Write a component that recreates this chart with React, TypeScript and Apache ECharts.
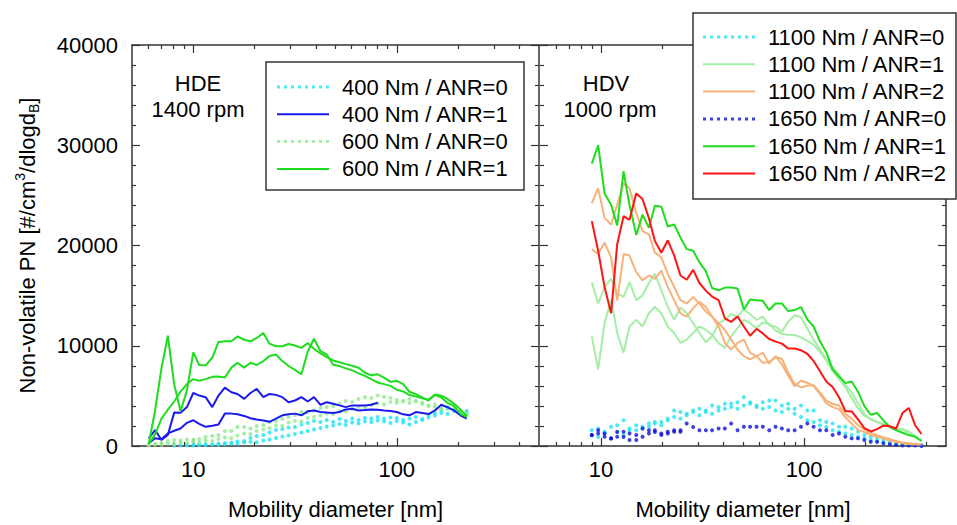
import { useEffect, useRef } from "react";
import * as echarts from "echarts";

// ---------------- data ----------------
const X_MIN = 5;
const X_MAX = 500;
const Y_MIN = 0;
const Y_MAX = 40000;
const Y_STEP = 10000;
const MAJOR_TICKS = [10, 100];
const MINOR_TICKS = [6, 7, 8, 9, 20, 30, 40, 50, 60, 70, 80, 90, 200, 300, 400];

const HDE_LABEL = ["HDE", "1400 rpm"];
const HDV_LABEL = ["HDV", "1000 rpm"];
const X_TITLE = "Mobility diameter [nm]";

// Left panel (HDE) mobility diameters [nm]
const HDE_D = [6.04, 6.49, 6.98, 7.5, 8.06, 8.66, 9.31, 10.0, 10.7, 11.5, 12.4, 13.3, 14.3, 15.4, 16.5, 17.8, 19.1, 20.5, 22.1, 23.7, 25.5, 27.4, 29.4, 31.6, 34.0, 36.5, 39.2, 42.2, 45.3, 48.7, 52.3, 56.2, 60.4, 64.9, 69.8, 75.0, 80.6, 86.6, 93.1, 100, 107.5, 115.5, 124.1, 133.4, 143.3, 154.0, 165.5, 177.8, 191.1, 205.4, 220.7];

const HDE_400_ANR0_A = [null, null, null, null, 50, 80, 100, 120, 150, 200, 150, 250, 300, 350, 450, 500, 800, 1000, 1100, 1350, 1600, 1700, 1850, 1900, 2150, 2300, 2500, 2400, 2600, 2400, 2700, 2500, 2750, 2600, 2800, 2750, 2900, 2750, 2850, 2800, 2600, 2750, 2900, 2700, 3100, 3300, 3600, 3900, 3500, 3400, 3500];
const HDE_400_ANR0_B = [null, null, null, null, null, null, 60, 40, 90, 70, 130, 110, 180, 250, 220, 350, 420, 380, 550, 650, 800, 950, 1050, 1200, 1350, 1500, 1650, 1800, 1950, 2050, 2200, 2100, 2350, 2250, 2450, 2400, 2550, 2450, 2300, 2500, 2350, 2150, 2400, 2600, 2850, 3050, 3300, 3200, 3600, 3450, 3350];
const HDE_400_ANR1_A = [770, 1590, 600, 1090, 3330, 3320, 3880, 5290, 5030, 4870, 3880, 5030, 5820, 5360, 5190, 4700, 5290, 5690, 4870, 5190, 5100, 4870, 4370, 4540, 4870, 4440, 4870, 4110, 4370, 4210, 4050, 3880, 4050, 4050, 4050, 4110, 4310, null, null, null, null, null, null, null, null, null, null, null, null, null, null];
const HDE_400_ANR1_B = [270, 770, 670, 1260, 1520, 1750, 2310, 2570, 2210, 1910, 2010, 2140, 3230, 3230, 3160, 3000, 2770, 2640, 2540, 2410, 2730, 3060, 3160, 3230, 3060, 3460, 3550, 3390, 3330, 3290, 3390, 3650, 3720, 3550, 3590, 3650, 3620, 3550, 3490, 3390, 3160, 3060, 3390, 3290, 3190, 3550, 4110, 3850, 3550, 3060, 2730];
const HDE_600_ANR0_A = [100, 200, 300, 500, 600, 550, 650, 600, 700, 900, 1000, 1100, 1500, 1500, 1900, 1900, 1750, 2000, 2100, 2400, 2500, 2700, 2900, 3100, 3400, 3400, 3550, 3800, 3900, 4000, 4200, 4500, 4400, 4700, 4870, 4800, 5030, 4900, 4800, 4310, 4500, 4700, 4500, 4300, 4000, 3900, 3720, 3900, 3600, 3300, 3100];
const HDE_600_ANR0_B = [80, 150, 120, 250, 200, 350, 300, 450, 400, 550, 500, 700, 850, 800, 1050, 1250, 1200, 1500, 1650, 1800, 2050, 2000, 2350, 2500, 2450, 2800, 2900, 3050, 3250, 3200, 3500, 3450, 3700, 3900, 3850, 4100, 4250, 4150, 4400, 4600, 4450, 4300, 4450, 4200, 4050, 4150, 3800, 3700, 3750, 3450, 3250];
const HDE_600_ANR1_A = [200, 3520, 7750, 11000, 6150, 3490, 5550, 9330, 8080, 8050, 8800, 10380, 10440, 10440, 10930, 10600, 10440, 10770, 11260, 10210, 9950, 9950, 10180, 10020, 9790, 10280, 9690, 9230, 8870, 8530, 8360, 8170, 8000, 7810, 7310, 7050, 7150, 6820, 6400, 6490, 6170, 5410, 5180, 4850, 4530, 5150, 5020, 4690, 4230, 3640, 2980];
const HDE_600_ANR1_B = [200, 1160, 2730, 3620, 4440, 5420, 6180, 6670, 6510, 6670, 6900, 6930, 6830, 7820, 8310, 7820, 8310, 8080, 8470, 8970, 9130, 8470, 7980, 7590, 7160, 9400, 10700, 9460, 9130, 8100, 7970, 7740, 7540, 7250, 6990, 6660, 6330, 6170, 6000, 5610, 5440, 5080, 4950, 4760, 4620, 5080, 4850, 4300, 3970, 3210, 2890];

// Right panel (HDV) mobility diameters [nm]
const HDV_D = [9.0, 9.67, 10.4, 11.2, 12.0, 12.9, 13.8, 14.9, 16.0, 17.2, 18.4, 19.8, 21.3, 22.9, 24.6, 26.4, 28.4, 30.5, 32.8, 35.2, 37.9, 40.7, 43.7, 47.0, 50.5, 54.2, 58.3, 62.6, 67.3, 72.3, 77.7, 83.5, 89.8, 96.5, 103.7, 111.4, 119.7, 128.6, 138.2, 148.6, 159.6, 171.5, 184.3, 198.1, 212.9, 228.8, 245.8, 264.2, 283.9, 305.1, 327.8, 352.3, 378.6];

const HDV_1100_ANR0_A = [1580, 1750, 1420, 1910, 2080, 2570, 1750, 1580, 1910, 1910, 2240, 2400, 2730, 3550, 3390, 3060, 3550, 3060, 3390, 4050, 3880, 3710, 4210, 4370, 4870, 4370, 4040, 4370, 4540, 4540, 4040, 4210, 3710, 4040, 3550, 3550, 2560, 2400, 2240, 1910, 1910, 1740, 1420, 1090, 930, 760, 600, 430, 270, 170, 200, 100, 100];
const HDV_1100_ANR0_B = [1090, 900, 1250, 760, 1420, 1090, 1580, 2070, 1750, 2240, 2400, 2070, 2570, 2900, 2730, 3220, 3390, 3710, 3550, 3220, 3550, 4210, 3880, 3710, 4050, 4210, 3880, 3710, 3880, 3550, 3390, 3710, 3220, 2900, 2570, 2400, 2070, 1900, 1580, 1420, 1250, 1090, 930, 760, 600, 430, 350, 270, 200, 100, 100, 100, 50];
const HDV_1100_ANR1_A = [16350, 14220, 15860, 16680, 15200, 14880, 16350, 14550, 15040, 16260, 17170, 15530, 13890, 12580, 13820, 13240, 12250, 11270, 10350, 10940, 12250, 12580, 13170, 12910, 13630, 13140, 12580, 12910, 12050, 11920, 11400, 12410, 13040, 12840, 11720, 10610, 9620, 8670, 7850, 7090, 6110, 5360, 4270, 3190, 2630, 2400, 2100, 1910, 1740, 1610, 1320, 920, 590];
const HDV_1100_ANR1_B = [10940, 7650, 12250, 14550, 11270, 9290, 11920, 12580, 11920, 13240, 13890, 13240, 11920, 11270, 10280, 10610, 11270, 11920, 11600, 11100, 10280, 9790, 10940, 11760, 12580, 12250, 11760, 12310, 12180, 11530, 11170, 11100, 11070, 10840, 10480, 10120, 9390, 8540, 7460, 6670, 5880, 4800, 3750, 3020, 2730, 2400, 2240, 1910, 1580, 1710, 1450, 990, 500];
const HDV_1100_ANR2_A = [24230, 25710, 22760, 22100, 24070, 26200, 25710, 23250, 21440, 21110, 19300, 18820, 17170, 15860, 14550, 14220, 14880, 14220, 13400, 12910, 12250, 11600, 10610, 9620, 8970, 8640, 8970, 9290, 8210, 8970, 8150, 7000, 5950, 6510, 6310, 5980, 5190, 4240, 3880, 3680, 2860, 2240, 1610, 1380, 1090, 920, 760, 530, 400, 270, 200, 170, 170];
const HDV_1100_ANR2_B = [19640, 19150, 20290, 18820, 14500, 19150, 19000, 17340, 16520, 17010, 16680, 17500, 15860, 14550, 13240, 12910, 13730, 14380, 13890, 12910, 11920, 10280, 9620, 10280, 10610, 9290, 8970, 8310, 8370, 8870, 8700, 7320, 6180, 5850, 6010, 6080, 5350, 4530, 4210, 4040, 3220, 2730, 2070, 1640, 1320, 1090, 860, 690, 490, 360, 270, 200, 170];
const HDV_1650_ANR0_A = [1090, 1580, 1250, 760, 920, 1420, 1250, 1090, 1750, 1580, 1580, 1250, 1420, 1580, 1420, 2240, 1900, 1580, 1580, 1580, 1750, 1750, 2240, 1580, 1910, 1910, 1910, 1910, 1580, 1910, 1750, 1580, 1580, 1910, 2240, 1910, 1580, 1580, 1100, 1250, 930, 760, 760, 600, 430, 430, 270, 170, 100, 50, 50, 50, 0];
const HDV_1650_ANR0_B = [1080, 1250, 920, 750, 1400, 900, 590, 590, 920, 1250, 1400, 1100, 1250, 1420, 1580, null, null, null, null, null, null, null, null, null, null, null, null, null, null, null, null, null, null, null, null, null, null, null, null, null, null, null, null, null, null, null, null, null, null, null, null, null, null];
const HDV_1650_ANR1 = [28170, 30000, 25190, 24070, 22000, 27420, 24040, 21050, 23080, 21770, 23970, 23870, 21900, 22100, 20790, 19640, 19470, 18320, 17440, 15760, 15530, 15800, 15800, 15700, 13630, 14610, 14550, 14480, 13560, 14220, 14220, 13460, 13560, 13860, 12640, 11920, 10440, 9360, 7650, 6930, 6270, 6440, 5420, 3980, 3120, 3290, 2560, 1910, 1580, 1320, 1090, 920, 500];
const HDV_1650_ANR2 = [22430, 19470, 15860, 13240, 20130, 22920, 22560, 25200, 24630, 22720, 20460, 19280, 20520, 19010, 17010, 16580, 17570, 16260, 15500, 14910, 14550, 12740, 12380, 12910, 11920, 11000, 11690, 11230, 10670, 10410, 10210, 9720, 9720, 9560, 9200, 8470, 7460, 6440, 5880, 4860, 3480, 3450, 2660, 1780, 1450, 1680, 2040, 1970, 1740, 3290, 3800, 2070, 1200];

// ---------------- styles ----------------
const FONT = "'Liberation Sans', Arial, Helvetica, sans-serif";
const FRAME = "#333333";
const CYAN = "#1fe3f0";
const BLUE_LINE = "#1a1af0";
const BLUE_DOT = "#1212d8";
const LIGHT_GREEN_DOT = "#8feb8f";
const GREEN = "#1edc1e";
const LIGHT_GREEN_LINE = "#a6eda6";
const ORANGE = "#f7b27a";
const RED = "#ff1414";

type Spec = {
  name: string;
  panel: 0 | 1;
  kind: "line" | "dots";
  color: string;
  values: (number | null)[];
};

const SPECS: Spec[] = [
  { name: "400 Nm / ANR=0", panel: 0, kind: "dots", color: CYAN, values: HDE_400_ANR0_A },
  { name: "400 Nm / ANR=0", panel: 0, kind: "dots", color: CYAN, values: HDE_400_ANR0_B },
  { name: "600 Nm / ANR=0", panel: 0, kind: "dots", color: LIGHT_GREEN_DOT, values: HDE_600_ANR0_A },
  { name: "600 Nm / ANR=0", panel: 0, kind: "dots", color: LIGHT_GREEN_DOT, values: HDE_600_ANR0_B },
  { name: "400 Nm / ANR=1", panel: 0, kind: "line", color: BLUE_LINE, values: HDE_400_ANR1_A },
  { name: "400 Nm / ANR=1", panel: 0, kind: "line", color: BLUE_LINE, values: HDE_400_ANR1_B },
  { name: "600 Nm / ANR=1", panel: 0, kind: "line", color: GREEN, values: HDE_600_ANR1_A },
  { name: "600 Nm / ANR=1", panel: 0, kind: "line", color: GREEN, values: HDE_600_ANR1_B },

  { name: "1100 Nm / ANR=0", panel: 1, kind: "dots", color: CYAN, values: HDV_1100_ANR0_A },
  { name: "1100 Nm / ANR=0", panel: 1, kind: "dots", color: CYAN, values: HDV_1100_ANR0_B },
  { name: "1650 Nm / ANR=0", panel: 1, kind: "dots", color: BLUE_DOT, values: HDV_1650_ANR0_A },
  { name: "1650 Nm / ANR=0", panel: 1, kind: "dots", color: BLUE_DOT, values: HDV_1650_ANR0_B },
  { name: "1100 Nm / ANR=1", panel: 1, kind: "line", color: LIGHT_GREEN_LINE, values: HDV_1100_ANR1_A },
  { name: "1100 Nm / ANR=1", panel: 1, kind: "line", color: LIGHT_GREEN_LINE, values: HDV_1100_ANR1_B },
  { name: "1100 Nm / ANR=2", panel: 1, kind: "line", color: ORANGE, values: HDV_1100_ANR2_A },
  { name: "1100 Nm / ANR=2", panel: 1, kind: "line", color: ORANGE, values: HDV_1100_ANR2_B },
  { name: "1650 Nm / ANR=1", panel: 1, kind: "line", color: GREEN, values: HDV_1650_ANR1 },
  { name: "1650 Nm / ANR=2", panel: 1, kind: "line", color: RED, values: HDV_1650_ANR2 },
];

const LEFT_LEGEND = ["400 Nm / ANR=0", "400 Nm / ANR=1", "600 Nm / ANR=0", "600 Nm / ANR=1"];
const RIGHT_LEGEND = ["1100 Nm / ANR=0", "1100 Nm / ANR=1", "1100 Nm / ANR=2", "1650 Nm / ANR=0", "1650 Nm / ANR=1", "1650 Nm / ANR=2"];
const DOTTED_NAMES = ["400 Nm / ANR=0", "600 Nm / ANR=0", "1100 Nm / ANR=0", "1650 Nm / ANR=0"];

const DOT_ICON =
  "path://" + [0, 7, 14, 21, 28, 35, 42, 49].map((x) => `M${x},0h3v3h-3z`).join(" ");
const LINE_ICON = "path://M0,0h52v2h-52z";

function buildOption() {
  const LMIN = Math.log10(X_MIN);
  const LMAX = Math.log10(X_MAX);
  const majorL = MAJOR_TICKS.map((v) => Math.log10(v));
  const minorL = MINOR_TICKS.map((v) => Math.log10(v));

  const grids = [
    { left: 132, top: 45, width: 407, height: 406 },
    { left: 540, top: 45, width: 406, height: 406 },
  ];

  const labelText = { fontSize: 22, color: "#000", fontFamily: FONT };

  const xAxes: any[] = [
    { type: "log", gridIndex: 0, min: X_MIN, max: X_MAX, logBase: 10, show: false },
    { type: "log", gridIndex: 1, min: X_MIN, max: X_MAX, logBase: 10, show: false },
  ];
  [0, 1].forEach((g) => {
    const base = { type: "value", gridIndex: g, min: LMIN, max: LMAX, splitLine: { show: false } };
    xAxes.push({
      ...base,
      position: "bottom",
      axisLine: { show: true, onZero: false, lineStyle: { color: FRAME, width: 1.5 } },
      axisTick: { show: true, inside: true, length: 8, customValues: majorL, lineStyle: { color: FRAME, width: 1.2 } },
      axisLabel: {
        show: true,
        customValues: majorL,
        formatter: (v: number) => String(Math.round(Math.pow(10, v))),
        margin: 12,
        ...labelText,
      },
      name: X_TITLE,
      nameLocation: "middle",
      nameGap: 52,
      nameTextStyle: { ...labelText, lineHeight: 22 },
    });
    xAxes.push({
      ...base,
      position: "bottom",
      axisLine: { show: false, onZero: false },
      axisTick: { show: true, inside: true, length: 4, customValues: minorL, lineStyle: { color: FRAME, width: 1.2 } },
      axisLabel: { show: false },
    });
    xAxes.push({
      ...base,
      position: "top",
      axisLine: { show: true, onZero: false, lineStyle: { color: FRAME, width: 1.5 } },
      axisTick: { show: true, inside: true, length: 8, customValues: majorL, lineStyle: { color: FRAME, width: 1.2 } },
      axisLabel: { show: false },
    });
    xAxes.push({
      ...base,
      position: "top",
      axisLine: { show: false, onZero: false },
      axisTick: { show: true, inside: true, length: 4, customValues: minorL, lineStyle: { color: FRAME, width: 1.2 } },
      axisLabel: { show: false },
    });
  });

  const yAxis = (g: number, position: string, showLabel: boolean, showLine: boolean, extra: any = {}) => ({
    type: "value",
    gridIndex: g,
    position,
    min: Y_MIN,
    max: Y_MAX,
    interval: Y_STEP,
    axisLine: { show: showLine, onZero: false, lineStyle: { color: FRAME, width: 1.5 } },
    axisTick: { show: true, inside: true, length: 8, lineStyle: { color: FRAME, width: 1.2 } },
    minorTick: { show: true, splitNumber: 5, length: 4, lineStyle: { color: FRAME, width: 1.2 } },
    axisLabel: { show: showLabel, margin: 14, formatter: (v: number) => String(v), ...labelText },
    splitLine: { show: false },
    minorSplitLine: { show: false },
    ...extra,
  });

  const yAxes = [
    yAxis(0, "left", true, true, {
      name: "{a|Non-volatile PN [#/cm}{sup|3}{a|/dlogd}{sub|B}{a|]}",
      nameLocation: "middle",
      nameGap: 91,
      nameRotate: 90,
      nameTextStyle: {
        ...labelText,
        rich: {
          a: { fontSize: 22, lineHeight: 28, fontFamily: FONT, color: "#000" },
          sup: { fontSize: 14, lineHeight: 14, fontFamily: FONT, color: "#000", verticalAlign: "top" },
          sub: { fontSize: 14, lineHeight: 14, fontFamily: FONT, color: "#000", verticalAlign: "bottom" },
        },
      },
    }),
    yAxis(0, "right", false, true),
    yAxis(1, "left", false, false),
    yAxis(1, "right", false, true),
  ];

  const series = SPECS.map((s) => {
    const xs = s.panel === 0 ? HDE_D : HDV_D;
    const data = s.values
      .map((v, i) => (v === null ? null : [xs[i], v]))
      .filter((p) => p !== null);
    const common = {
      name: s.name,
      xAxisIndex: s.panel,
      yAxisIndex: s.panel === 0 ? 0 : 2,
      data,
      itemStyle: { color: s.color },
      emphasis: { disabled: true },
    };
    if (s.kind === "dots") {
      return { ...common, type: "scatter", symbol: "circle", symbolSize: 4 };
    }
    return {
      ...common,
      type: "line",
      symbol: "none",
      showSymbol: false,
      lineStyle: { color: s.color, width: 2 },
    };
  });

  const legendCommon = {
    orient: "vertical",
    padding: 0,
    itemGap: 5.3,
    itemWidth: 52,
    itemHeight: 3,
    selectedMode: false,
    z: 10,
    textStyle: { fontSize: 22, color: "#000", fontFamily: FONT, lineHeight: 22, padding: [0, 0, 0, 8] },
  };
  const legendData = (names: string[]) =>
    names.map((n) => ({ name: n, icon: DOTTED_NAMES.includes(n) ? DOT_ICON : LINE_ICON }));

  const txt = (text: string, x: number, y: number) => ({
    type: "text",
    x,
    y,
    z: 3,
    style: {
      text,
      fill: "#000",
      fontSize: 22,
      fontFamily: FONT,
      align: "center",
      verticalAlign: "middle",
      textAlign: "center",
      textVerticalAlign: "middle",
    },
  });

  return {
    animation: false,
    backgroundColor: "#ffffff",
    textStyle: { fontFamily: FONT },
    grid: grids,
    xAxis: xAxes,
    yAxis: yAxes,
    series,
    legend: [
      { ...legendCommon, left: 277, top: 76, data: legendData(LEFT_LEGEND) },
      { ...legendCommon, left: 703, top: 26, data: legendData(RIGHT_LEGEND) },
    ],
    graphic: [
      {
        type: "rect",
        z: 3,
        shape: { x: 266, y: 62, width: 258, height: 128 },
        style: { fill: "#ffffff", stroke: FRAME, lineWidth: 1.5 },
      },
      {
        type: "rect",
        z: 3,
        shape: { x: 693, y: 13, width: 263, height: 186 },
        style: { fill: "#ffffff", stroke: FRAME, lineWidth: 1.5 },
      },
      txt(HDE_LABEL[0], 198, 83),
      txt(HDE_LABEL[1], 198, 109),
      txt(HDV_LABEL[0], 606, 83),
      txt(HDV_LABEL[1], 610, 109),
    ],
  };
}

export default function App() {
  const ref = useRef<HTMLDivElement>(null);
  useEffect(() => {
    if (!ref.current) return;
    const chart = echarts.init(ref.current, null, { renderer: "svg" });
    chart.setOption(buildOption() as any);
    return () => chart.dispose();
  }, []);
  return (
    <div
      ref={ref}
      style={{ position: "fixed", left: 0, top: 0, width: 957, height: 525, background: "#fff" }}
    />
  );
}
